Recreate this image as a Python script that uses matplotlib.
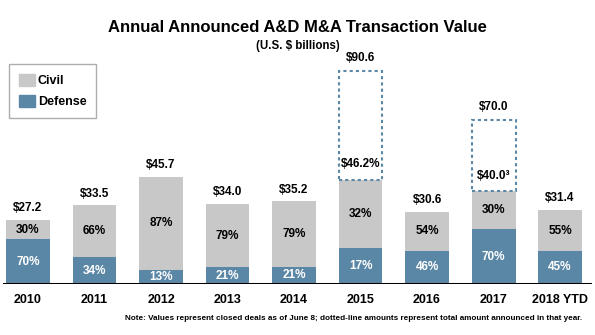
import matplotlib
matplotlib.use("Agg")
import matplotlib.pyplot as plt
from matplotlib.patches import Rectangle, Patch

plt.rcParams["font.family"] = ["Liberation Sans", "DejaVu Sans"]
plt.rcParams["font.weight"] = "bold"

YEARS = ["2010", "2011", "2012", "2013", "2014", "2015", "2016", "2017", "2018 YTD"]
TOTAL = [27.2, 33.5, 45.7, 34.0, 35.2, 44.4, 30.6, 39.6, 31.4]      # closed, $B
DEFENSE = [19.0, 11.4, 5.9, 7.1, 7.4, 15.4, 14.1, 23.4, 14.1]       # $B
TOP_LABEL = ["$27.2", "$33.5", "$45.7", "$34.0", "$35.2", "$90.6", "$30.6", "$70.0", "$31.4"]
CIVIL_PCT = ["30%", "66%", "87%", "79%", "79%", "32%", "54%", "30%", "55%"]
DEF_PCT = ["70%", "34%", "13%", "21%", "21%", "17%", "46%", "70%", "45%"]
# announced totals (dotted boxes)
ANN_IDX = [5, 7]
ANNOUNCED = [90.6, 70.0]
CLOSED_LABEL = ["$46.2%", "$40.0\u00b3"]

CIVIL_C = "#c8c8c8"
DEF_C = "#5b87a6"
FS = 8.5

fig = plt.figure(figsize=(5.95, 3.35), dpi=100)
ax = fig.add_axes([3 / 595, 51 / 335, 589 / 595, 235 / 335])
x = list(range(len(YEARS)))
w = 0.66
civil = [t - d for t, d in zip(TOTAL, DEFENSE)]
ax.bar(x, DEFENSE, w, color=DEF_C, zorder=2)
ax.bar(x, civil, w, bottom=DEFENSE, color=CIVIL_C, zorder=2)

for i in x:
    ax.text(i, DEFENSE[i] / 2, DEF_PCT[i], ha="center", va="center", color="white", fontsize=FS)
    ax.text(i, DEFENSE[i] + civil[i] / 2, CIVIL_PCT[i], ha="center", va="center", color="black", fontsize=FS)
    if i not in ANN_IDX:
        ax.text(i, TOTAL[i] + 5, TOP_LABEL[i], ha="center", va="center", fontsize=FS)

for k, i in enumerate(ANN_IDX):
    ax.add_patch(Rectangle((i - w / 2, TOTAL[i]), w, ANNOUNCED[k] - TOTAL[i], fill=False,
                           ec=DEF_C, ls=(0, (1.5, 1.5)), lw=1.5, zorder=3))
    ax.text(i, ANNOUNCED[k] + 5.5, TOP_LABEL[i], ha="center", va="center", fontsize=FS)
    ax.text(i, TOTAL[i] + 6.5, CLOSED_LABEL[k], ha="center", va="center", fontsize=FS)

ax.axhline(0, color="black", lw=2.2, zorder=4)
ax.set_xlim(-0.376, 8.48)
ax.set_ylim(0, 100)
ax.set_xticks(x)
ax.set_xticklabels(YEARS, fontsize=9, fontweight="bold")
ax.tick_params(axis="x", length=0, pad=7)
ax.set_yticks([])
for s in ax.spines.values():
    s.set_visible(False)

fig.text(0.5, 1 - 27 / 335, "Annual Announced A&D M&A Transaction Value", ha="center", va="center",
         fontsize=12, fontweight="bold")
fig.text(0.5, 1 - 46 / 335, "(U.S. $ billions)", ha="center", va="center", fontsize=8.3)
fig.text(582 / 595, 1 - 319 / 335,
         "Note: Values represent closed deals as of June 8; dotted-line amounts represent total amount announced in that year.",
         ha="right", va="center", fontsize=5.9)

handles = [Patch(color=CIVIL_C, label="Civil"), Patch(color=DEF_C, label="Defense")]
leg = fig.legend(handles=handles, loc="upper left", bbox_to_anchor=(9 / 595, 1 - 64 / 335),
                 fontsize=9, frameon=True, fancybox=False, edgecolor="#999999",
                 handlelength=1.3, handleheight=1.1, handletextpad=0.2, borderpad=0.8, labelspacing=0.6,
                 borderaxespad=0)
leg.get_frame().set_linewidth(1.0)

fig.savefig("out.png", dpi=100)
